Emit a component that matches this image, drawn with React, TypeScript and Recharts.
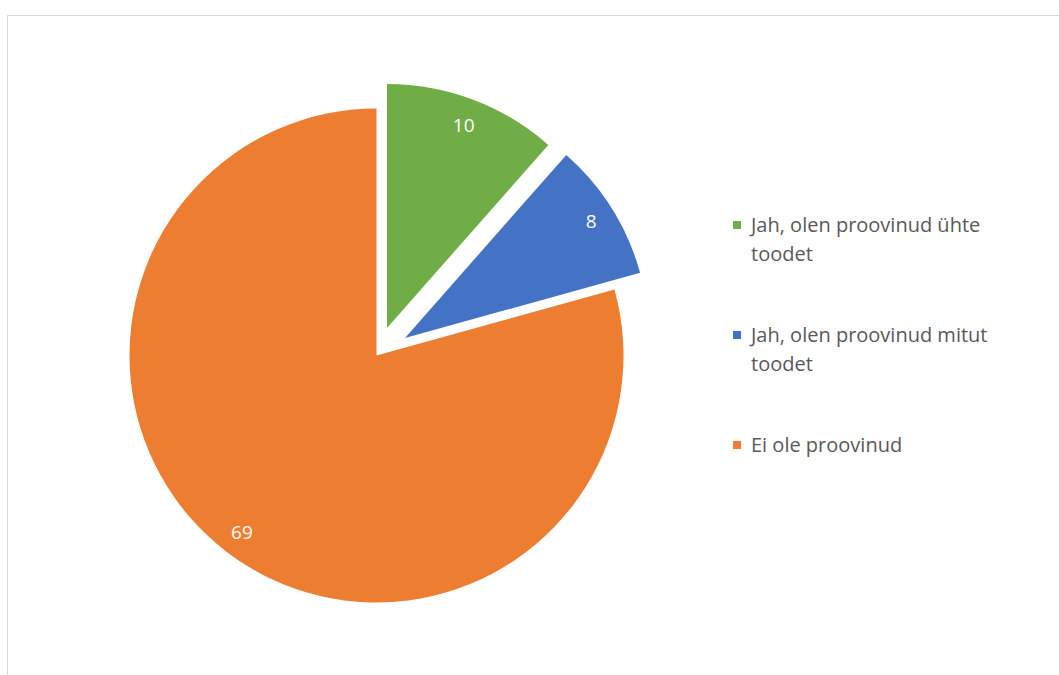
import React from "react";
import { Cell, Legend, Pie, PieChart } from "recharts";

const categories = [
  "Jah, olen proovinud ühte toodet",
  "Jah, olen proovinud mitut toodet",
  "Ei ole proovinud",
];
const counts = [10, 8, 69];
const colors = ["#70AD47", "#4472C4", "#ED7D31"];

// each slice gets its own pie so it can be pulled out of the middle
const pieSpots = [
  { cx: 387, cy: 328, r: 244, k: 0.89 },
  { cx: 405, cy: 338, r: 244, k: 0.9 },
  { cx: 376.5, cy: 355.5, r: 247, k: 0.9 },
];

const data = categories.map((name, i) => ({ name, value: counts[i] }));

const RAD = Math.PI / 180;
const FONT = "'Open Sans', sans-serif";

const makeLabel = (show: number) => (props: any) => {
  const { cx, cy, midAngle, outerRadius, index, value } = props;
  if (index !== show) return null;
  const k = pieSpots[show].k;
  const x = cx + outerRadius * k * Math.cos(-midAngle * RAD);
  const y = cy + outerRadius * k * Math.sin(-midAngle * RAD);
  return (
    <text
      x={x}
      y={y}
      fill="#ffffff"
      fontSize={19}
      fontFamily={FONT}
      textAnchor="middle"
      dominantBaseline="central"
    >
      {value}
    </text>
  );
};

const LegendBox = () => (
  <div style={{ fontFamily: FONT, fontSize: 20, color: "#595959", lineHeight: "29px" }}>
    {categories.map((c, i) => (
      <div key={c} style={{ display: "flex", alignItems: "flex-start", marginBottom: 52 }}>
        <div
          style={{
            width: 8,
            height: 8,
            background: colors[i],
            marginTop: 11,
            marginRight: 10,
            flex: "none",
          }}
        />
        <div style={{ width: 275 }}>{c}</div>
      </div>
    ))}
  </div>
);

export default function App() {
  return (
    <div style={{ position: "fixed", left: 0, top: 0, width: 1059, height: 675, overflow: "hidden", background: "#fff" }}>
      <div
        style={{
          position: "absolute",
          left: 7,
          top: 15,
          width: 1100,
          height: 720,
          border: "1.5px solid #d9d9d9",
        }}
      />
      <div style={{ position: "absolute", left: 0, top: 0 }}>
        <PieChart width={1059} height={675} margin={{ top: 0, right: 0, bottom: 0, left: 0 }}>
          {pieSpots.map((p, i) => (
            <Pie
              key={i}
              data={data}
              dataKey="value"
              nameKey="name"
              cx={p.cx}
              cy={p.cy}
              outerRadius={p.r}
              startAngle={90}
              endAngle={-270}
              stroke="none"
              labelLine={false}
              label={makeLabel(i)}
              legendType="none"
              isAnimationActive={false}
            >
              {data.map((d, j) => (
                <Cell key={d.name} fill={j === i ? colors[j] : "none"} stroke="none" />
              ))}
            </Pie>
          ))}
          <Legend
            content={<LegendBox />}
            wrapperStyle={{ position: "absolute", left: 733, top: 210, width: 300 }}
          />
        </PieChart>
      </div>
    </div>
  );
}
